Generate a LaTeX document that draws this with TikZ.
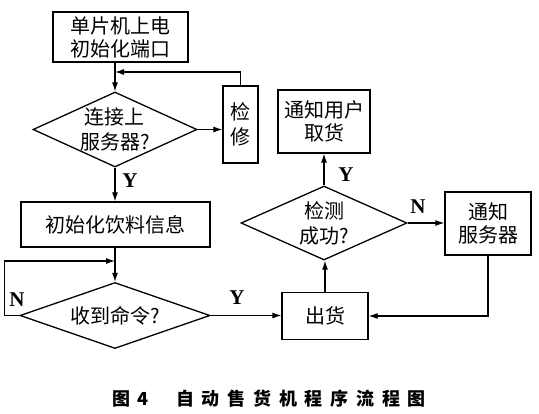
\documentclass[tikz,border=0pt]{standalone}
\usepackage{fontspec}
\setmainfont{Liberation Serif}
\newfontfamily\cjk{Noto Sans CJK SC}
\usetikzlibrary{shapes.geometric,arrows.meta,positioning,calc}

\begin{document}
\begin{tikzpicture}[x=1pt,y=-1pt,
  box/.style={draw, line width=1.3pt, inner sep=0pt, align=center, font=\cjk\fontsize{20}{23}\selectfont},
  decision/.style={draw, diamond, line width=1.3pt, inner sep=0pt},
  dtext/.style={align=center, inner sep=0pt, font=\cjk\fontsize{20}{25}\selectfont},
  flow/.style={line width=1.1pt, -{Latex[length=9pt,width=6pt]}},
  yn/.style={inner sep=0pt, font=\bfseries\fontsize{21}{21}\selectfont}]

  \useasboundingbox (0,0) rectangle (539,413);

  % Power on
  \node[box, minimum width=135pt, minimum height=50pt] (start) at (120.5,37) {单片机上电\\初始化端口};

  % Connect to server
  \node[decision, minimum width=164pt, minimum height=75pt] (conn) at (115,129.5) {};
  \node[dtext] (conntext) at (conn) {连接上\\服务器?};
  \coordinate (join1) at (115,72);
  \draw[flow] (start.south -| conn.north) -- (conn.north);

  % Repair
  \node[box, minimum width=35pt, minimum height=77pt, font=\cjk\fontsize{20}{25}\selectfont] (repair) at (240.5,124.5) {检\\修};
  \draw[flow] (conn.east) -- (conn.east -| repair.west);
  \draw[flow] (repair.north) |- (join1);

  % Init drink info
  \node[box, minimum width=189pt, minimum height=45pt] (init) at (115.5,224.5) {初始化饮料信息};
  \draw[flow] (conn.south) -- (conn.south |- init.north);
  \node[yn] (yconn) at (130,181) {Y};

  % Command received
  \node[decision, minimum width=190pt, minimum height=66pt] (cmd) at (115,315.5) {};
  \node[dtext] (cmdtext) at (cmd) {收到命令?};
  \coordinate (join2) at (115,261);
  \draw[flow] (init.south -| cmd.north) -- (cmd.north);
  \draw[flow] (cmd.west) -- ++(-15,0) |- (join2);
  \node[yn] (ncmd) at (17,300) {N};

  % Dispense
  \node[box, minimum width=86pt, minimum height=47pt] (ship) at (325,316) {出货};
  \draw[flow] (cmd.east) -- (cmd.east -| ship.west);
  \node[yn] (ycmd) at (237,298) {Y};

  % Check
  \node[decision, minimum width=166pt, minimum height=74pt] (check) at (324,223) {};
  \node[dtext] (checktext) at (check) {检测\\成功?};
  \draw[flow] (ship.north) -- (ship.north |- check.south);

  % Notify user
  \node[box, minimum width=92pt, minimum height=63pt] (user) at (324,121.5) {通知用户\\取货};
  \draw[flow] (check.north) -- (check.north |- user.south);
  \node[yn] (ycheck) at (346,175) {Y};

  % Notify server
  \node[box, minimum width=86pt, minimum height=63pt] (server) at (488,223.5) {通知\\服务器};
  \draw[flow] (check.east) -- (check.east -| server.west);
  \node[yn] (ncheck) at (418,207) {N};
  \draw[flow] (server.south) |- (ship.east);

  % Caption
  \node[anchor=west, inner sep=0pt, font=\cjk\bfseries\fontsize{18}{18}\selectfont] (caption) at (112,399)
    {图\hspace{7pt}4\hspace{28pt}\addfontfeature{LetterSpace=43}自动售货机程序流程图};
\end{tikzpicture}
\end{document}
